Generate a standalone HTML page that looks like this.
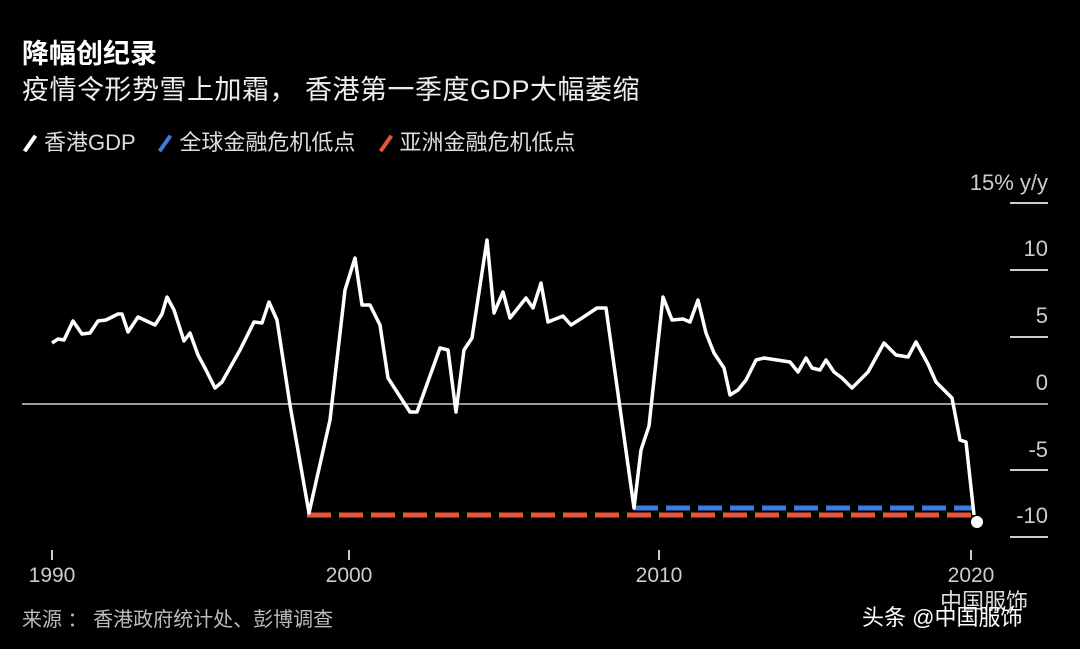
<!DOCTYPE html>
<html><head><meta charset="utf-8"><style>
body{margin:0;background:#000;width:1080px;height:649px;overflow:hidden;position:relative;font-family:"Liberation Sans","Noto Sans CJK SC",sans-serif;color:#fff}
.t{position:absolute;white-space:nowrap}
</style></head><body>
<div class="t" style="left:22px;top:32px;font-size:27px;font-weight:bold">降幅创纪录</div>
<div class="t" style="left:22px;top:68px;font-size:27px;color:#eee;letter-spacing:0.5px">疫情令形势雪上加霜， 香港第一季度GDP大幅萎缩</div>
<div class="t" style="left:22px;top:125px;font-size:22px;color:#ddd">
<span style="display:inline-block;width:4px;height:19px;background:#fff;transform:rotate(35deg);margin:0 12px -3px 6px"></span>香港GDP
<span style="display:inline-block;width:4px;height:19px;background:#3b7de0;transform:rotate(35deg);margin:0 12px -3px 22px"></span>全球金融危机低点
<span style="display:inline-block;width:4px;height:19px;background:#e8553a;transform:rotate(35deg);margin:0 12px -3px 22px"></span>亚洲金融危机低点</div>
<svg width="1080" height="649" style="position:absolute;left:0;top:0">
<g stroke="#ccc" stroke-width="2">
<line x1="1010" y1="203" x2="1048" y2="203"/><line x1="1010" y1="270" x2="1048" y2="270"/><line x1="1010" y1="337" x2="1048" y2="337"/><line x1="1010" y1="470" x2="1048" y2="470"/><line x1="1010" y1="537" x2="1048" y2="537"/>
<line x1="22" y1="404" x2="1048" y2="404" stroke-width="1.5"/>
<line x1="52" y1="550" x2="52" y2="560"/><line x1="349" y1="550" x2="349" y2="560"/><line x1="659" y1="550" x2="659" y2="560"/><line x1="971" y1="550" x2="971" y2="560"/>
</g>
<g fill="#ccc" font-size="22" font-family="Liberation Sans,sans-serif" text-anchor="end">
<text x="1048" y="190">15% y/y</text><text x="1048" y="256">10</text><text x="1048" y="323">5</text><text x="1048" y="390">0</text><text x="1048" y="457">-5</text><text x="1048" y="523">-10</text>
</g>
<g fill="#ccc" font-size="21" font-family="Liberation Sans,sans-serif" text-anchor="middle">
<text x="52" y="582">1990</text><text x="349" y="582">2000</text><text x="659" y="582">2010</text><text x="971" y="582">2020</text>
</g>
<line x1="307" y1="515" x2="972" y2="515" stroke="#e8553a" stroke-width="5" stroke-dasharray="24 8"/>
<line x1="634" y1="508" x2="972" y2="508" stroke="#3b7de0" stroke-width="5" stroke-dasharray="24 8"/>
<polyline fill="none" stroke="#fff" stroke-width="3.5" stroke-linejoin="round" points="52,343 58,339 64,340 73,321 82,334 90,333 98,321 106,320 118,314 122,314 128,332 138,317 155,325 162,314 167,297 174,310 184,341 190,333 198,355 206,370 215,388 222,382 240,350 254,322 262,323 269,302 277,320 290,405 309,513 330,420 345,290 355,258 362,305 370,305 380,325 388,378 410,412 417,412 440,348 448,350 456,412 464,350 472,338 487,240 494,313 503,292 510,318 526,298 533,308 541,283 548,322 563,316 571,325 582,318 597,308 606,308 634,508 641,450 649,426 663,297 672,320 683,319 690,322 698,300 706,333 714,353 724,368 730,395 738,390 746,380 756,360 764,358 790,362 798,372 806,358 812,368 820,370 826,360 834,372 842,378 852,388 858,382 868,372 884,343 896,355 908,357 916,342 928,364 936,382 946,392 952,398 960,440 966,442 974,515"/>
<circle cx="977" cy="522" r="6" fill="#fff"/>
</svg>
<div class="t" style="left:22px;top:603px;font-size:20px;color:#bbb">来源 ： 香港政府统计处、彭博调查</div>
<div class="t" style="left:940px;top:584px;font-size:22px;color:#ddd">中国服饰</div>
<div class="t" style="left:862px;top:600px;font-size:22px;color:#fff">头条 @中国服饰</div>
</body></html>
